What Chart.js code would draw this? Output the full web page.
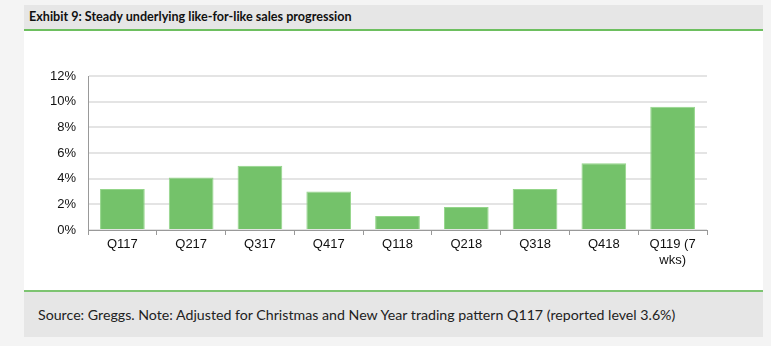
<!DOCTYPE html>
<html lang="en">
<head>
    <meta charset="UTF-8">
    <title>Exhibit 9</title>
    <script src="https://cdn.jsdelivr.net/npm/chart.js"></script>
    <style>
        body { margin: 0; background: #f4f4f4; width: 771px; height: 346px; overflow: hidden; }
        .panel { position: absolute; left: 24px; top: 5px; width: 739px; }
        .head { height: 24px; background: #e6e6e6; border-bottom: 2px solid #6dbf5f;
                font: bold 12.6px Lato, sans-serif; color: #111; line-height: 24px; padding-left: 5px; }
        .body { position: relative; height: 259px; background: #fff; }
        .foot { height: 45px; background: #e6e6e6; border-top: 2px solid #7dc471;
                font: 14.2px Lato, sans-serif; color: #222; line-height: 45px; padding-left: 14px; }
    </style>
</head>
<body>
<div class="panel">
    <div class="head">Exhibit 9: Steady underlying like-for-like sales progression</div>
    <div class="body"><canvas id="lfl-chart" width="739" height="259"></canvas></div>
    <div class="foot">Source: Greggs. Note: Adjusted for Christmas and New Year trading pattern Q117 (reported level 3.6%)</div>
</div>
<script>
    // quarters and like-for-like growth (%)
    const quarters = ['Q117', 'Q217', 'Q317', 'Q417', 'Q118', 'Q218', 'Q318', 'Q418', ['Q119 (7', 'wks)']];
    const lflGrowth = [3.2, 4.1, 5.0, 3.0, 1.1, 1.8, 3.2, 5.2, 9.6];
    const yTicks = [0, 2, 4, 6, 8, 10, 12];

    const ctx = document.getElementById('lfl-chart').getContext('2d');
    new Chart(ctx, {
        type: 'bar',
        data: {
            labels: quarters,
            datasets: [{
                data: lflGrowth,
                backgroundColor: '#74c26a',
                borderColor: '#93d589',
                borderWidth: 1,
                barPercentage: 0.65,
                categoryPercentage: 1
            }]
        },
        options: {
            responsive: false,
            animation: false,
            layout: { padding: { top: 45, right: 56, left: 0, bottom: 0 } },
            plugins: { legend: { display: false }, tooltip: { enabled: false } },
            scales: {
                x: {
                    afterFit: s => { s.height = 60; },
                    grid: { offset: true, drawOnChartArea: false, tickLength: 5, color: '#999' },
                    border: { color: '#999' },
                    ticks: { color: '#111', font: { family: 'Liberation Sans', size: 13 }, padding: 2, maxRotation: 0 }
                },
                y: {
                    min: 0,
                    max: 12,
                    afterFit: s => { s.width = 64; },
                    afterBuildTicks: s => { s.ticks = yTicks.map(v => ({ value: v })); },
                    grid: { color: '#e4e4e4', lineWidth: 2, tickLength: 0 },
                    border: { color: '#999' },
                    ticks: { color: '#111', font: { family: 'Liberation Sans', size: 13 }, padding: 12,
                             callback: v => v + '%' }
                }
            }
        }
    });
</script>
</body>
</html>
